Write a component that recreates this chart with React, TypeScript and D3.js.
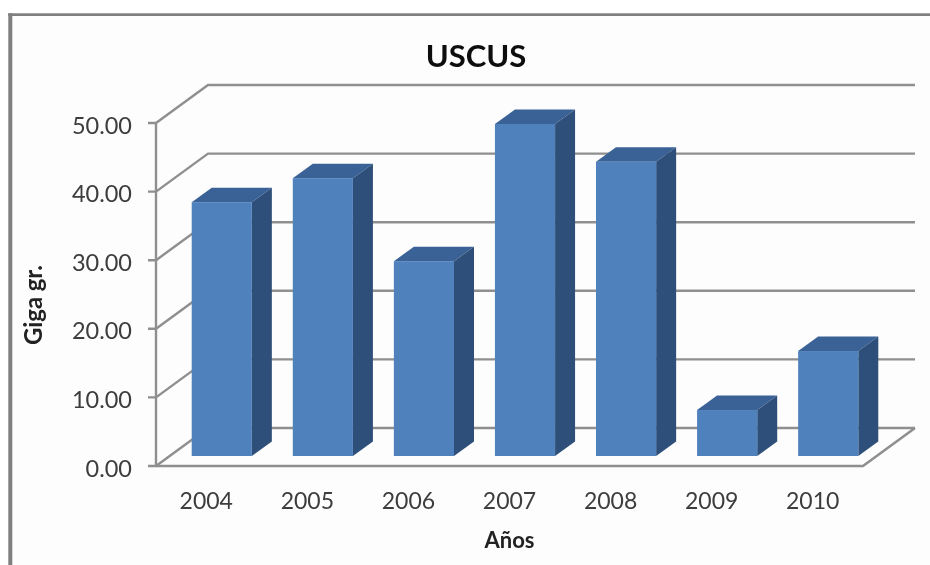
import * as React from "react";
import * as d3 from "d3";

const years = ["2004", "2005", "2006", "2007", "2008", "2009", "2010"];
const values = [37.0, 40.5, 28.4, 48.4, 42.9, 6.7, 15.3];
const yTicks = [0, 10, 20, 30, 40, 50];

const width = 930;
const height = 565;
const gridColor = "#8f8f8f";
const textColor = "#3c3c3c";
const font = "Lato, 'Open Sans', sans-serif";

// fake 3D: how far the back wall sits from the front axis
const wallDx = 52;
const wallDy = -38;
// bar box depth, and where the bar sits inside the floor
const barDx = 20;
const barDy = -14.5;
const barShiftX = 15.5;
const barShiftY = -10;

const x = d3.scaleBand().domain(years).range([156, 863]).paddingInner(0.405).paddingOuter(0.2);
const y = d3.scaleLinear().domain([0, 50]).range([466, 123]);
const line = d3.line();

export default function App() {
  const bw = x.bandwidth();
  const bars = years.map((yr, i) => {
    const x0 = x(yr)! + barShiftX;
    const x1 = x0 + bw;
    const top = y(values[i]) + barShiftY;
    const base = y(0) + barShiftY;
    const topFace = line([[x0, top], [x0 + barDx, top + barDy], [x1 + barDx, top + barDy], [x1, top]]) + "Z";
    const sideFace = line([[x1, top], [x1 + barDx, top + barDy], [x1 + barDx, base + barDy], [x1, base]]) + "Z";
    return (
      <g key={yr}>
        <path d={topFace} fill="#3a6296" />
        <path d={sideFace} fill="#2f5079" />
        <rect x={x0} y={top} width={bw} height={base - top} fill="#4f81bd" />
      </g>
    );
  });

  return (
    <svg width={width} height={height} style={{ position: "absolute", left: 0, top: 0, background: "#fdfdfd" }}>
      <defs>
        <filter id="soft" x="0" y="0" width="100%" height="100%">
          <feGaussianBlur stdDeviation="0.7" />
        </filter>
      </defs>
      <g filter="url(#soft)">
        <rect x={0} y={0} width={width} height={height} fill="#fdfdfd" />
        <rect x={0} y={0} width={width} height={13} fill="#ffffff" />
        <rect x={0} y={0} width={8} height={height} fill="#ffffff" />
        <rect x={8.3} y={13.3} width={4} height={height} fill="#7f7f7f" />
        <rect x={8.3} y={13.3} width={width} height={2.7} fill="#7f7f7f" />

        {yTicks.map((t) => (
          <g key={t}>
            <path
              d={line([[148, y(t)], [156, y(t)], [156 + wallDx, y(t) + wallDy], [915, y(t) + wallDy]])!}
              fill="none"
              stroke={gridColor}
              strokeWidth={2.4}
            />
            <text x={132} y={y(t) + 10.5} textAnchor="end" fontFamily={font} fontSize={23.5} fill={textColor}>
              {t.toFixed(2)}
            </text>
          </g>
        ))}
        <path d={line([[156, y(50)], [156, y(0)]])!} fill="none" stroke={gridColor} strokeWidth={2.4} />
        <path
          d={line([[156, y(0)], [863, y(0)], [863 + wallDx, y(0) + wallDy]])!}
          fill="none"
          stroke={gridColor}
          strokeWidth={2.6}
        />

        {bars}

        {years.map((yr) => (
          <text
            key={yr}
            x={x(yr)! + bw / 2}
            y={509}
            textAnchor="middle"
            fontFamily={font}
            fontSize={23}
            fill={textColor}
          >
            {yr}
          </text>
        ))}

        <text x={476} y={67} textAnchor="middle" fontFamily={font} fontWeight={700} fontSize={31} fill="#111">
          USCUS
        </text>
        <text x={509.5} y={548} textAnchor="middle" fontFamily={font} fontWeight={700} fontSize={22} fill="#222">
          Años
        </text>
        <text
          transform="translate(42,305) rotate(-90)"
          textAnchor="middle"
          fontFamily={font}
          fontWeight={700}
          fontSize={24}
          textLength={80}
          fill="#222"
        >
          Giga gr.
        </text>
      </g>
    </svg>
  );
}
